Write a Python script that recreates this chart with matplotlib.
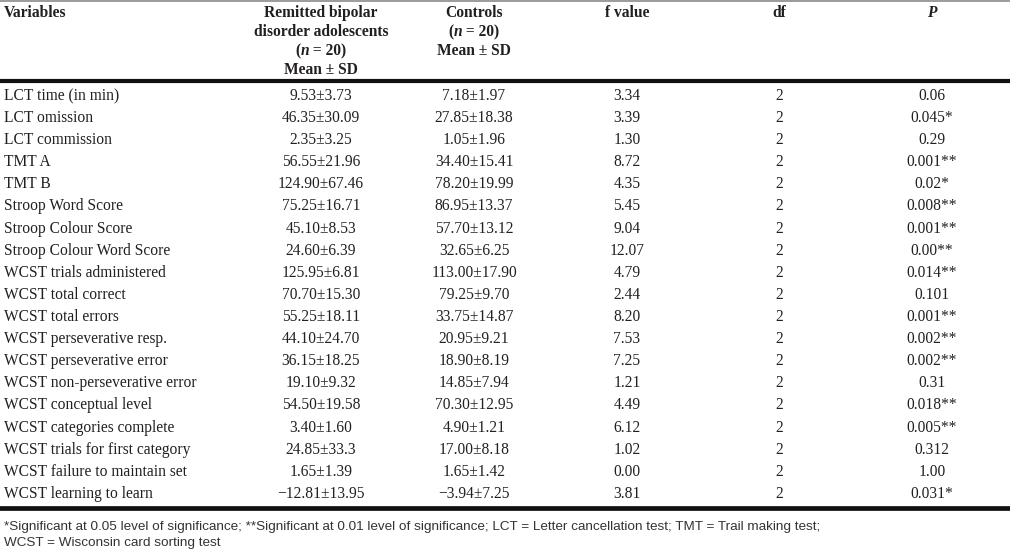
import matplotlib
matplotlib.use("Agg")
import matplotlib.pyplot as plt
from matplotlib import font_manager

variables = [
    "LCT time (in min)", "LCT omission", "LCT commission", "TMT A", "TMT B",
    "Stroop Word Score", "Stroop Colour Score", "Stroop Colour Word Score",
    "WCST trials administered", "WCST total correct", "WCST total errors",
    "WCST perseverative resp.", "WCST perseverative error",
    "WCST non-perseverative error", "WCST conceptual level",
    "WCST categories complete", "WCST trials for first category",
    "WCST failure to maintain set", "WCST learning to learn",
]
bipolar = [
    "9.53±3.73", "46.35±30.09", "2.35±3.25", "56.55±21.96", "124.90±67.46",
    "75.25±16.71", "45.10±8.53", "24.60±6.39", "125.95±6.81", "70.70±15.30",
    "55.25±18.11", "44.10±24.70", "36.15±18.25", "19.10±9.32", "54.50±19.58",
    "3.40±1.60", "24.85±33.3", "1.65±1.39", "\u221212.81±13.95",
]
controls = [
    "7.18±1.97", "27.85±18.38", "1.05±1.96", "34.40±15.41", "78.20±19.99",
    "86.95±13.37", "57.70±13.12", "32.65±6.25", "113.00±17.90", "79.25±9.70",
    "33.75±14.87", "20.95±9.21", "18.90±8.19", "14.85±7.94", "70.30±12.95",
    "4.90±1.21", "17.00±8.18", "1.65±1.42", "\u22123.94±7.25",
]
f_values = ["3.34", "3.39", "1.30", "8.72", "4.35", "5.45", "9.04", "12.07",
            "4.79", "2.44", "8.20", "7.53", "7.25", "1.21", "4.49", "6.12",
            "1.02", "0.00", "3.81"]
df_values = [2] * 19
p_values = ["0.06", "0.045*", "0.29", "0.001**", "0.02*", "0.008**",
            "0.001**", "0.00**", "0.014**", "0.101", "0.001**", "0.002**",
            "0.002**", "0.31", "0.018**", "0.005**", "0.312", "1.00", "0.031*"]
footnote = ["*Significant at 0.05 level of significance; **Significant at 0.01 "
            "level of significance; LCT = Letter cancellation test; TMT = Trail "
            "making test;", "WCST = Wisconsin card sorting test"]

W, H = 1010, 552
serif = "Liberation Serif"
names = {f.name for f in font_manager.fontManager.ttflist}
if "Liberation Sans Narrow" in names:
    narrow, foot_fs = "Liberation Sans Narrow", 10.8
else:
    narrow, foot_fs = "Liberation Sans", 9.7
ink = "#231f20"
fs = 11.2

fig = plt.figure(figsize=(W / 100, H / 100), dpi=100)
ax = fig.add_axes([0, 0, 1, 1])
ax.set_xlim(0, W)
ax.set_ylim(H, 0)
ax.axis("off")

x_var, x_bip, x_con, x_f, x_df, x_p = 4, 321, 474, 627, 779, 932

# rules
ax.axhline(0.8, color="#8a8a8a", lw=1.2)
ax.axhline(81, color="#111111", lw=3.0)
ax.axhline(507.5, color="#111111", lw=3.4)

# header
hd = dict(family=serif, fontsize=fs, weight="bold", color=ink, va="center")
ax.text(x_var, 13, "Variables", ha="left", **hd)
ax.text(x_bip, 13, "Remitted bipolar", ha="center", **hd)
ax.text(x_bip, 32, "disorder adolescents", ha="center", **hd)
ax.text(x_bip, 70, "Mean ± SD", ha="center", **hd)
ax.text(x_con, 13, "Controls", ha="center", **hd)
ax.text(x_con, 51, "Mean ± SD", ha="center", **hd)
ax.text(x_f, 13, "f value", ha="center", **hd)
ax.text(x_df, 13, "df", ha="center", **hd)
ax.text(x_p, 13, "P", ha="center", style="italic", **hd)

renderer = fig.canvas.get_renderer()


def n_label(xc, y):
    # "(n = 20)" with an italic n, centred on xc
    parts = [("(", "normal"), ("n", "italic"), (" = 20)", "normal")]
    widths = []
    for s, st in parts:
        t = ax.text(0, y, s, style=st, **hd)
        widths.append(t.get_window_extent(renderer).width)
        t.remove()
    x = xc - sum(widths) / 2
    for (s, st), w in zip(parts, widths):
        ax.text(x, y, s, ha="left", style=st, **hd)
        x += w


n_label(x_bip, 51)
n_label(x_con, 32)

# body
bd = dict(family=serif, fontsize=fs, color=ink, va="center")
y0, step = 96, 22.1
for i in range(len(variables)):
    y = y0 + i * step
    ax.text(x_var, y, variables[i], ha="left", **bd)
    ax.text(x_bip, y, bipolar[i], ha="center", **bd)
    ax.text(x_con, y, controls[i], ha="center", **bd)
    ax.text(x_f, y, f_values[i], ha="center", **bd)
    ax.text(x_df, y, str(df_values[i]), ha="center", **bd)
    ax.text(x_p, y, p_values[i], ha="center", **bd)

# footnote
for j, line in enumerate(footnote):
    ax.text(x_var, 527 + j * 16, line, ha="left", va="center",
            family=narrow, fontsize=foot_fs, color="#333333")

fig.savefig("out.png", dpi=100)
